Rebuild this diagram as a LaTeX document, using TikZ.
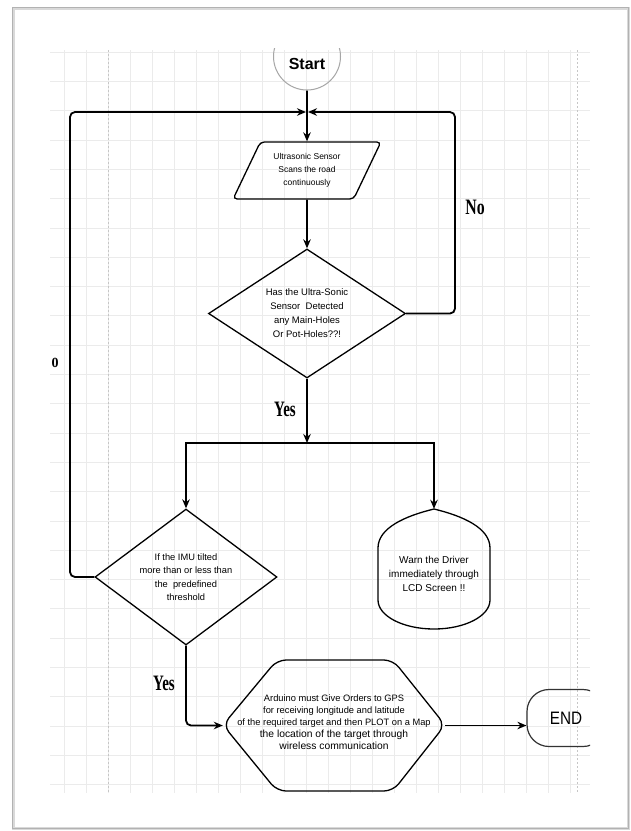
\documentclass[tikz,border=0pt]{standalone}
\usepackage{fontspec}
\setmainfont{Liberation Sans}
\newfontfamily\lblfont{Liberation Serif}
\usetikzlibrary{shapes.geometric,arrows.meta}
\begin{document}
\begin{tikzpicture}[x=1pt,y=-1pt,
  flow/.style={line width=1.8pt, draw=black, -{Stealth[length=9pt,width=7.5pt]}},
  outline/.style={draw=black, line width=1.3pt},
  txt/.style={align=center, text=black},
  gridl/.style={draw=gray!16, line width=0.5pt},
  pagedash/.style={draw=gray!45, line width=0.6pt, dash pattern=on 2pt off 2pt},
  lbl/.style={font=\lblfont\bfseries\fontsize{22}{22}\selectfont, text=black, inner sep=0pt}
]
\useasboundingbox (0,0) rectangle (631,831);
\fill[white] (0,0) rectangle (631,831);
% page frame
\draw[draw=gray!30, line width=3pt] (13.5,8) rectangle (628,828);
\draw[draw=gray!60, line width=1pt] (12.5,7) rectangle (628.5,828.5);

% grid
\foreach \x in {64,86,...,590} \draw[gridl] (\x,50) -- (\x,793);
\foreach \i in {0,...,25} \draw[gridl] (50,{52+29.3*\i}) -- (590,{52+29.3*\i});
\draw[pagedash] (108,50) -- (108,793);
\draw[pagedash] (577,50) -- (577,793);

% clipped terminals
\begin{scope}
\clip (50,48) rectangle (590,793);
\node[circle, draw=gray!70, line width=1pt, minimum size=67pt, inner sep=0pt,
      font=\bfseries\fontsize{16}{16}\selectfont] (start) at (307,56.5)
      {\raisebox{-13pt}[0pt][0pt]{Start}};
\node[rectangle, draw=black!80, line width=1.2pt, rounded corners=22pt, minimum width=78pt,
      minimum height=57pt, inner sep=0pt, font=\fontsize{18}{18}\selectfont] (end) at (566,718)
      {\scalebox{0.85}[1]{END}};
\end{scope}

% scan (parallelogram)
\node[trapezium, trapezium left angle=60, trapezium right angle=120, trapezium stretches=true,
      outline, rounded corners=4pt, minimum width=148pt, minimum height=57pt, inner sep=0pt,
      txt, font=\fontsize{8.5}{13}\selectfont] (scan) at (307,170.5)
      {Ultrasonic Sensor\\Scans the road\\continuously};

% detection diamond
\node[diamond, aspect=1.5, outline, minimum width=197pt, minimum height=129pt, inner sep=0pt,
      txt, font=\fontsize{9.5}{14}\selectfont] (det) at (307,313.5)
      {Has the Ultra-Sonic\\Sensor\ \ Detected\\any Main-Holes\\Or Pot-Holes??!};

% IMU diamond
\node[diamond, aspect=1.4, outline, minimum width=182pt, minimum height=136pt, inner sep=0pt,
      txt, font=\fontsize{9.3}{13.5}\selectfont] (imu) at (186,577)
      {If the IMU tilted\\more than or less than\\the\ \ predefined\\threshold};

% warn shape
\node[rectangle, minimum width=112pt, minimum height=120pt, inner sep=0pt] (warn) at (434,569) {};
\draw[outline] (434,509) .. controls (405,516) and (378,528) .. (378,548) -- (378,600)
   .. controls (378,616) and (403,629) .. (434,629) .. controls (465,629) and (490,616) .. (490,600)
   -- (490,548) .. controls (490,528) and (463,516) .. (434,509) -- cycle;
\node[txt, font=\fontsize{10}{14}\selectfont, inner sep=0pt] (warntext) at (434,574)
      {Warn the Driver\\immediately through\\LCD Screen !!};

% hexagon
\node[rectangle, minimum width=222pt, minimum height=131pt, inner sep=0pt] (hex) at (334,725.5) {};
\draw[outline, rounded corners=9pt] (223,725) -- (277,660) -- (393,660) -- (445,725)
   -- (393,791) -- (277,791) -- cycle;
\node[txt, inner sep=0pt] (hextext) at (334,722)
  {\fontsize{9.3}{13.5}\selectfont Arduino must Give Orders to GPS\\
   \fontsize{9.3}{13.5}\selectfont for receiving longitude and latitude\\
   \fontsize{9.3}{14.5}\selectfont of the required target and then PLOT on a Map\\
   \fontsize{10.3}{14.5}\selectfont the location of the target through\\
   \fontsize{10.3}{14.5}\selectfont wireless communication};

% junction coordinates
\coordinate (merge) at (307,112);
\coordinate (rc) at (455,112);
\coordinate (lc) at (70,112);
\coordinate (split) at (307,443);

% connectors
\draw[flow] (start.south) -- (scan.north);
\draw[flow] (scan.south) -- (det.north);
\draw[flow, rounded corners=5pt] (det.east) -| (rc) -- ([xshift=1pt]merge);
\draw[flow, rounded corners=5pt] (imu.west) -| (lc) -- ([xshift=-1pt]merge);
\draw[flow] (det.south) -- (split);
\draw[flow] (split) -| (imu.north);
\draw[flow] (split) -| (warn.north);
\draw[flow, rounded corners=5pt] (imu.south) |- (hex.west);
\draw[flow] (hex.east) -- (hex.east -| end.west);

% labels
\node[lbl] (lno) at (475,207) {\scalebox{0.72}[1]{No}};
\node[lbl] (lyes1) at (285,409) {\scalebox{0.68}[1]{Yes}};
\node[lbl] (lyes2) at (164,683) {\scalebox{0.68}[1]{Yes}};
\node[lbl, font=\lblfont\bfseries\fontsize{14}{14}\selectfont] (lzero) at (55,363) {0};
\end{tikzpicture}
\end{document}
